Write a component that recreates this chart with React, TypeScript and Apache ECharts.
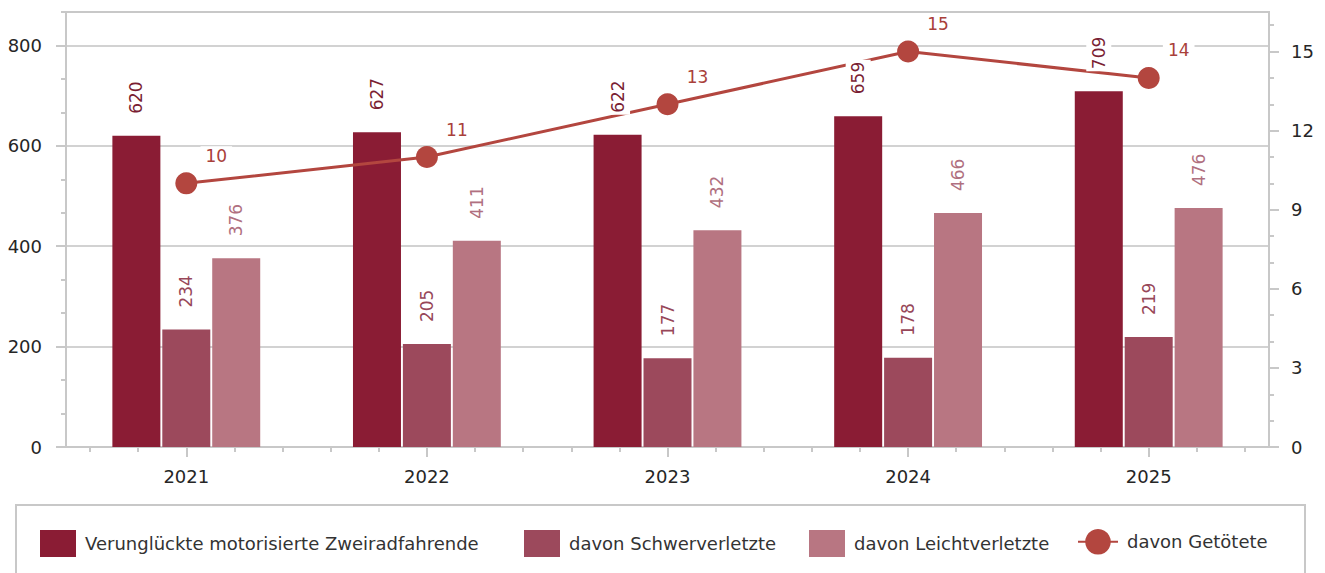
import React, { useEffect, useRef } from 'react';
import * as echarts from 'echarts';

const years = ['2021', '2022', '2023', '2024', '2025'];
const verunglueckte = [620, 627, 622, 659, 709];
const schwerverletzte = [234, 205, 177, 178, 219];
const leichtverletzte = [376, 411, 432, 466, 476];
const getoetete = [10, 11, 13, 15, 14];

const seriesNames = [
  'Verunglückte motorisierte Zweiradfahrende',
  'davon Schwerverletzte',
  'davon Leichtverletzte',
  'davon Getötete',
];

const leftTickValues = [0, 200, 400, 600, 800];
const rightTickValues = [0, 3, 6, 9, 12, 15];
const leftMax = 2600 / 3;
const rightMax = 16.5;
const leftMinorTicks = Array.from({ length: 14 }, (_, i) => (i * 200) / 3);
const rightMinorTicks = Array.from({ length: 17 }, (_, i) => i);
const subCategories = Array.from({ length: 25 }, (_, i) => 's' + i);

const FONT = 'DejaVu Sans';
const barColors = ['#8a1c34', '#9c495c', '#b87682'];
const barLabelColors = ['#7a1e33', '#974759', '#b07080'];
const lineColor = '#b3463f';
const axisGray = '#c8c8c8';
const gridGray = '#d2d2d2';
const textColor = '#262626';

export default function App() {
  const ref = useRef<HTMLDivElement>(null);

  useEffect(() => {
    if (!ref.current) return;
    const chart = echarts.init(ref.current, null, { renderer: 'svg' });
    const barData = [verunglueckte, schwerverletzte, leichtverletzte];

    const barLabel = (i: number) => ({
      show: true,
      position: 'top',
      rotate: 90,
      align: 'left',
      verticalAlign: 'middle',
      distance: 20,
      color: barLabelColors[i],
      fontSize: 17,
      fontFamily: FONT,
      backgroundColor: '#ffffff',
      padding: [4, 2],
    });

    const barSeries = barData.map((d, i) => ({
      name: seriesNames[i],
      type: 'bar',
      xAxisIndex: 0,
      yAxisIndex: 0,
      data: d,
      barWidth: 48,
      barGap: '4%',
      itemStyle: { color: barColors[i] },
      label: { show: false },
      z: 2,
    }));

    const labelSeries = barData.map((d, i) => ({
      name: '_label' + i,
      type: 'bar',
      xAxisIndex: 2,
      yAxisIndex: 0,
      data: d,
      barWidth: 48,
      barGap: '4%',
      itemStyle: { color: 'rgba(0,0,0,0)' },
      label: barLabel(i),
      silent: true,
      z: 10,
    }));

    const legendBase = (name: string, left: number, top: number, w: number, h: number, icon?: string) => ({
      data: [name],
      left,
      top,
      padding: 0,
      itemWidth: w,
      itemHeight: h,
      icon,
      selectedMode: false,
      textStyle: { fontSize: 18, color: '#333333', fontFamily: FONT, padding: [0, 0, 0, 4] },
    });

    chart.setOption({
      animation: false,
      backgroundColor: '#ffffff',
      textStyle: { fontFamily: FONT },
      grid: {
        left: 66,
        right: 56,
        top: 12,
        bottom: 126,
        show: true,
        borderColor: axisGray,
        borderWidth: 2,
        outerBoundsMode: 'none',
      },
      graphic: [
        {
          type: 'rect',
          shape: { x: 16, y: 505, width: 1289, height: 100 },
          style: { fill: 'none', stroke: axisGray, lineWidth: 2 },
          silent: true,
          z: -1,
        },
      ],
      legend: [
        legendBase(seriesNames[0], 40, 530, 36, 27, 'rect'),
        legendBase(seriesNames[1], 524, 530, 36, 27, 'rect'),
        legendBase(seriesNames[2], 809, 530, 36, 27, 'rect'),
        legendBase(seriesNames[3], 1077, 529, 40, 32),
      ],
      xAxis: [
        {
          type: 'category',
          data: years,
          position: 'bottom',
          axisLine: { show: true, lineStyle: { color: axisGray, width: 2 } },
          axisTick: { show: true, alignWithLabel: true, length: 10, lineStyle: { color: axisGray, width: 2 } },
          axisLabel: { fontSize: 18, color: textColor, fontFamily: FONT, margin: 20 },
          splitLine: { show: false },
        },
        {
          type: 'category',
          data: subCategories,
          position: 'bottom',
          axisLine: { show: false },
          axisTick: { show: true, alignWithLabel: true, length: 5, lineStyle: { color: axisGray, width: 2 } },
          axisLabel: { show: false },
          splitLine: { show: false },
        },
        {
          type: 'category',
          data: years,
          position: 'bottom',
          show: false,
        },
      ],
      yAxis: [
        {
          type: 'value',
          position: 'left',
          min: 0,
          max: leftMax,
          interval: 200,
          axisLine: { show: true, lineStyle: { color: axisGray, width: 2 } },
          axisTick: { show: true, length: 10, customValues: leftTickValues, lineStyle: { color: axisGray, width: 2 } },
          axisLabel: { customValues: leftTickValues, fontSize: 18, color: textColor, fontFamily: FONT, margin: 24 },
          splitLine: { show: true, lineStyle: { color: gridGray, width: 2 } },
        },
        {
          type: 'value',
          position: 'right',
          min: 0,
          max: rightMax,
          interval: 3,
          axisLine: { show: true, lineStyle: { color: axisGray, width: 2 } },
          axisTick: { show: true, length: 10, customValues: rightTickValues, lineStyle: { color: axisGray, width: 2 } },
          axisLabel: { customValues: rightTickValues, fontSize: 18, color: textColor, fontFamily: FONT, margin: 22 },
          splitLine: { show: false },
        },
        {
          type: 'value',
          position: 'left',
          min: 0,
          max: leftMax,
          axisLine: { show: false },
          axisTick: { show: true, length: 5, customValues: leftMinorTicks, lineStyle: { color: axisGray, width: 2 } },
          axisLabel: { show: false },
          splitLine: { show: false },
        },
        {
          type: 'value',
          position: 'right',
          min: 0,
          max: rightMax,
          axisLine: { show: false },
          axisTick: { show: true, length: 5, customValues: rightMinorTicks, lineStyle: { color: axisGray, width: 2 } },
          axisLabel: { show: false },
          splitLine: { show: false },
        },
      ],
      series: [
        ...barSeries,
        {
          name: seriesNames[3],
          type: 'line',
          xAxisIndex: 0,
          yAxisIndex: 1,
          data: getoetete,
          symbol: 'circle',
          symbolSize: 22,
          lineStyle: { color: lineColor, width: 3 },
          itemStyle: { color: lineColor },
          label: {
            show: true,
            position: 'top',
            distance: 4,
            offset: [30, -3],
            color: '#a9403a',
            fontSize: 17,
            fontFamily: FONT,
            backgroundColor: '#ffffff',
            padding: [1, 5],
          },
          z: 5,
        },
        ...labelSeries,
      ],
    });

    return () => chart.dispose();
  }, []);

  return (
    <div
      ref={ref}
      style={{ position: 'fixed', left: 0, top: 0, width: 1325, height: 573, background: '#fff' }}
    />
  );
}
